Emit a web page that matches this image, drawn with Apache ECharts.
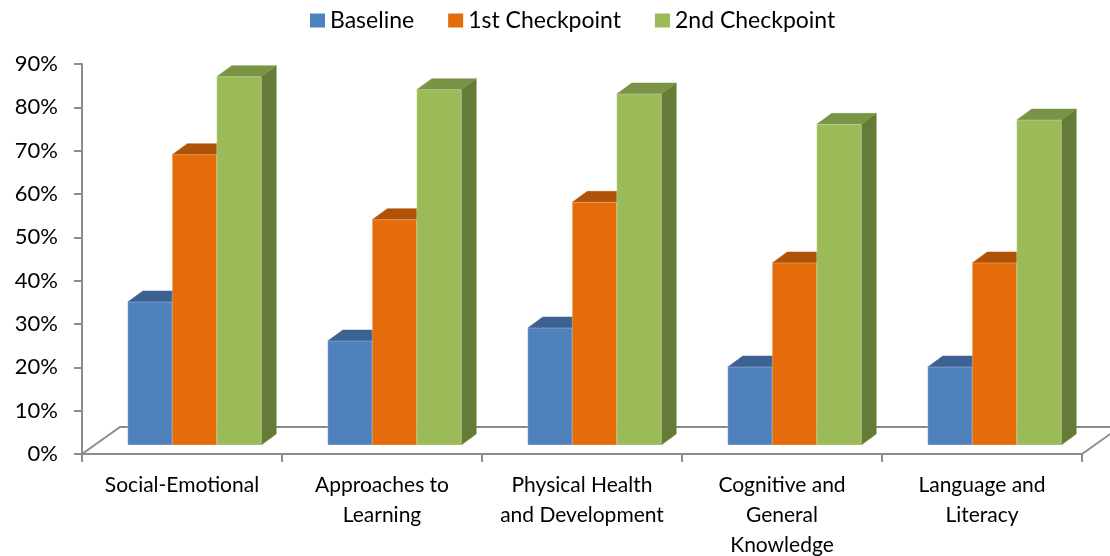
<!DOCTYPE html>
<html>
<head>
<meta charset="utf-8">
<script src="https://cdn.jsdelivr.net/npm/echarts@6/dist/echarts.min.js"></script>
<style>
html,body{margin:0;padding:0;background:#fff;}
#chart{width:1110px;height:556px;}
</style>
</head>
<body>
<div id="chart"></div>
<script>
var categories = ['Social-Emotional', 'Approaches to Learning', 'Physical Health and Development', 'Cognitive and General Knowledge', 'Language and Literacy'];
var tickLabels = ['Social-Emotional', 'Approaches to\nLearning', 'Physical Health\nand Development', 'Cognitive and\nGeneral\nKnowledge', 'Language and\nLiteracy'];
var seriesNames = ['Baseline', '1st Checkpoint', '2nd Checkpoint'];
var baseline = [33, 24, 27, 18, 18];
var checkpoint1 = [67, 52, 56, 42, 42];
var checkpoint2 = [85, 82, 81, 74, 75];
var yTicks = [0, 10, 20, 30, 40, 50, 60, 70, 80, 90];

var FONT = 'Lato';
var palette = [
  {front: '#4F81BD', top: '#3C6291', side: '#355A86'},
  {front: '#E46C0A', top: '#B05307', side: '#A04A06'},
  {front: '#9BBB59', top: '#7A9445', side: '#677B38'}
];
var seriesData = [baseline, checkpoint1, checkpoint2];

// 3D projection offsets
var FLOOR_DX = 38, FLOOR_DY = -27;   // full depth of floor
var FRONT_DX = 12.5, FRONT_DY = -9;  // bar front plane offset
var BAR_DX = 15, BAR_DY = -11;       // bar depth
var BAR_FRAC = 0.2225;

function makeBarSeries(si) {
  return {
    name: seriesNames[si],
    type: 'custom',
    itemStyle: {color: palette[si].front},
    data: seriesData[si].map(function (v, i) { return [i, v]; }),
    renderItem: function (params, api) {
      var ci = api.value(0);
      var v = api.value(1);
      var top = api.coord([ci, v]);
      var bot = api.coord([ci, 0]);
      var catW = api.size([1, 0])[0];
      var bw = catW * BAR_FRAC;
      var x0 = top[0] - 1.5 * bw + si * bw + FRONT_DX;
      var x1 = x0 + bw;
      var yT = top[1] + FRONT_DY;
      var yB = bot[1] + FRONT_DY;
      var c = palette[si];
      return {
        type: 'group',
        children: [
          {type: 'polygon', shape: {points: [[x1, yT], [x1 + BAR_DX, yT + BAR_DY], [x1 + BAR_DX, yB + BAR_DY], [x1, yB]]},
           style: {fill: c.side, stroke: c.side, lineWidth: 0.5}},
          {type: 'polygon', shape: {points: [[x0, yT], [x1, yT], [x1 + BAR_DX, yT + BAR_DY], [x0 + BAR_DX, yT + BAR_DY]]},
           style: {fill: c.top, stroke: c.top, lineWidth: 0.5}},
          {type: 'rect', shape: {x: x0, y: yT, width: bw, height: yB - yT},
           style: {fill: c.front, stroke: 'rgba(255,255,255,0.35)', lineWidth: 0.8}}
        ]
      };
    },
    z: 3
  };
}

var floorSeries = {
  type: 'custom',
  name: 'floor',
  silent: true,
  data: [[0, 0]],
  renderItem: function (params, api) {
    var cs = params.coordSys;
    var lx = cs.x, rx = cs.x + cs.width, by = cs.y + cs.height;
    return {
      type: 'polyline',
      shape: {points: [[lx, by], [lx + FLOOR_DX, by + FLOOR_DY], [rx + FLOOR_DX, by + FLOOR_DY], [rx, by]]},
      style: {fill: null, stroke: '#8C8C8C', lineWidth: 2}
    };
  },
  z: 1
};

var chart = echarts.init(document.getElementById('chart'));
chart.setOption({
  backgroundColor: '#fff',
  animation: false,
  legend: {
    data: seriesNames,
    left: 305,
    top: 4,
    icon: 'rect',
    itemWidth: 15,
    itemHeight: 14,
    itemGap: 34,
    textStyle: {fontFamily: FONT, fontSize: 23, color: '#000'}
  },
  grid: {left: 82, right: 28, top: 64, bottom: 102, containLabel: false, outerBoundsMode: 'none'},
  xAxis: {
    type: 'category',
    data: categories,
    boundaryGap: true,
    axisLine: {show: true, lineStyle: {color: '#8C8C8C', width: 2}},
    axisTick: {show: true, length: 8, lineStyle: {color: '#8C8C8C', width: 2}},
    axisLabel: {
      interval: 0,
      margin: 16,
      fontFamily: FONT,
      fontSize: 21,
      lineHeight: 30,
      color: '#000',
      formatter: function (val, idx) { return tickLabels[idx]; }
    },
    splitLine: {show: false}
  },
  yAxis: {
    type: 'value',
    min: 0,
    max: yTicks[yTicks.length - 1],
    interval: 10,
    axisLine: {show: true, lineStyle: {color: '#8C8C8C', width: 2}},
    axisTick: {show: true, length: 8, lineStyle: {color: '#8C8C8C', width: 2}},
    axisLabel: {margin: 24, fontFamily: FONT, fontSize: 22, color: '#000', formatter: '{value}%'},
    splitLine: {show: false}
  },
  series: [floorSeries, makeBarSeries(0), makeBarSeries(1), makeBarSeries(2)]
});
</script>
</body>
</html>
